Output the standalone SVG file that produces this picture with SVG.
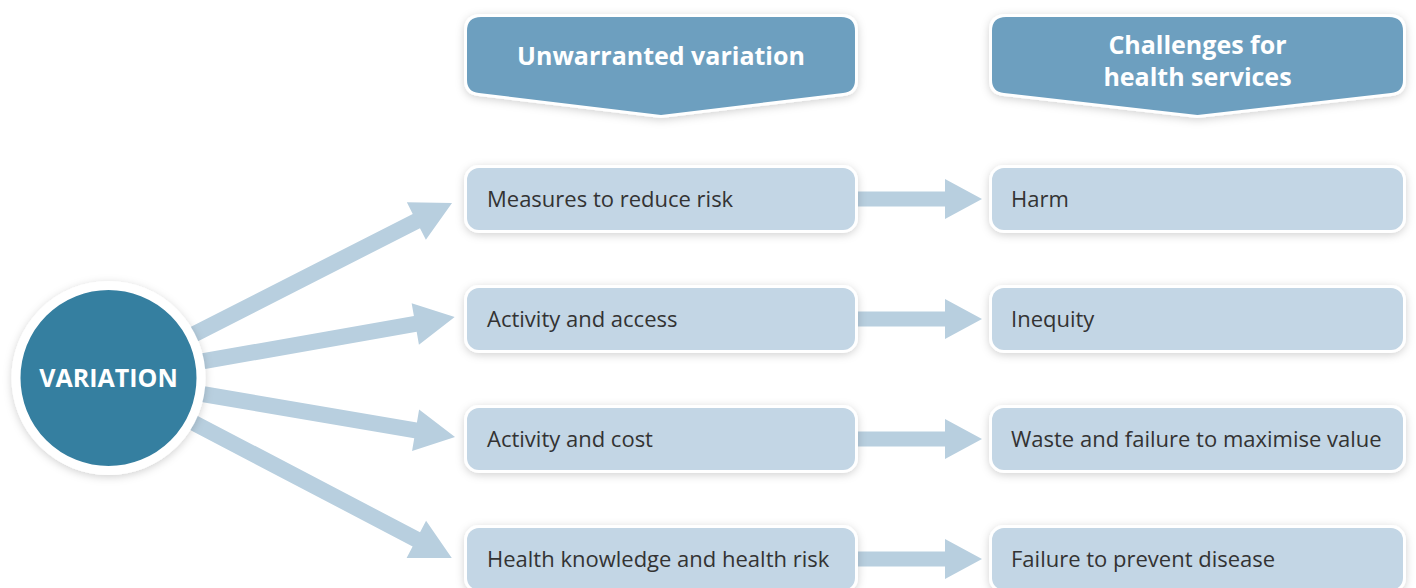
<svg xmlns="http://www.w3.org/2000/svg" width="1416" height="588" viewBox="0 0 1416 588">
<defs>
<filter id="sh" x="-20%" y="-30%" width="140%" height="160%">
<feDropShadow dx="0" dy="2" stdDeviation="4" flood-color="#000" flood-opacity="0.18"/>
</filter>
<style>
.hdr{fill:#6d9fbf;stroke:#fff;stroke-width:6;paint-order:stroke;filter:url(#sh)}
.box{fill:#c3d6e5;stroke:#fff;stroke-width:6;paint-order:stroke;filter:url(#sh)}
.arr{fill:#b8cfdf}
.ht{font-family:"Open Sans",sans-serif;font-weight:bold;font-size:25px;fill:#fff;text-anchor:middle}
.bt{font-family:"Open Sans",sans-serif;font-size:22px;fill:#333}
</style>
</defs>
<g id="connectors">
<g transform="translate(108,378) rotate(-26.97)"><polygon class="arr" points="0,-8 346,-8 346,-21 386,0 346,21 346,8 0,8"/></g>
<g transform="translate(108,378) rotate(-9.97)"><polygon class="arr" points="0,-8 312,-8 312,-21 352,0 312,21 312,8 0,8"/></g>
<g transform="translate(108,378) rotate(9.65)"><polygon class="arr" points="0,-8 312,-8 312,-21 352,0 312,21 312,8 0,8"/></g>
<g transform="translate(108,378) rotate(27.62)"><polygon class="arr" points="0,-8 348,-8 348,-21 388,0 348,21 348,8 0,8"/></g>
<polygon class="arr" points="855,191.5 945,191.5 945,179 982,199 945,219 945,206.5 855,206.5"/>
<polygon class="arr" points="855,311.5 945,311.5 945,299 982,319 945,339 945,326.5 855,326.5"/>
<polygon class="arr" points="855,431.5 945,431.5 945,419 982,439 945,459 945,446.5 855,446.5"/>
<polygon class="arr" points="855,551.5 945,551.5 945,539 982,559 945,579 945,566.5 855,566.5"/>
</g>
<g id="variation">
<circle cx="108.5" cy="378" r="92.5" fill="#367fa0" stroke="#fff" stroke-width="9" filter="url(#sh)"/>
<text class="ht" x="108.5" y="386.5">VARIATION</text>
</g>
<g id="hdr-unwarranted">
<path class="hdr" d="M481,17 H841 Q855,17 855,31 V80 Q855,92 843,93 L661,115 L479,93 Q467,92 467,80 V31 Q467,17 481,17 Z"/>
<text class="ht" x="661" y="65">Unwarranted variation</text>
</g>
<g id="hdr-challenges">
<path class="hdr" d="M1006,17 H1389 Q1403,17 1403,31 V80 Q1403,92 1391,93 L1197.5,115 L1004,93 Q992,92 992,80 V31 Q992,17 1006,17 Z"/>
<text class="ht" x="1197.5" y="54">Challenges for</text>
<text class="ht" x="1197.5" y="86">health services</text>
</g>
<g id="measures"><rect class="box" x="467" y="168" width="388" height="62" rx="12"/><text class="bt" x="487" y="207">Measures to reduce risk</text></g>
<g id="activity-access"><rect class="box" x="467" y="288" width="388" height="62" rx="12"/><text class="bt" x="487" y="327">Activity and access</text></g>
<g id="activity-cost"><rect class="box" x="467" y="408" width="388" height="62" rx="12"/><text class="bt" x="487" y="447">Activity and cost</text></g>
<g id="health-knowledge"><rect class="box" x="467" y="528" width="388" height="62" rx="12"/><text class="bt" x="487" y="567">Health knowledge and health risk</text></g>
<g id="harm"><rect class="box" x="992" y="168" width="411" height="62" rx="12"/><text class="bt" x="1011" y="207">Harm</text></g>
<g id="inequity"><rect class="box" x="992" y="288" width="411" height="62" rx="12"/><text class="bt" x="1011" y="327">Inequity</text></g>
<g id="waste"><rect class="box" x="992" y="408" width="411" height="62" rx="12"/><text class="bt" x="1011" y="447">Waste and failure to maximise value</text></g>
<g id="failure"><rect class="box" x="992" y="528" width="411" height="62" rx="12"/><text class="bt" x="1011" y="567">Failure to prevent disease</text></g>
</svg>
